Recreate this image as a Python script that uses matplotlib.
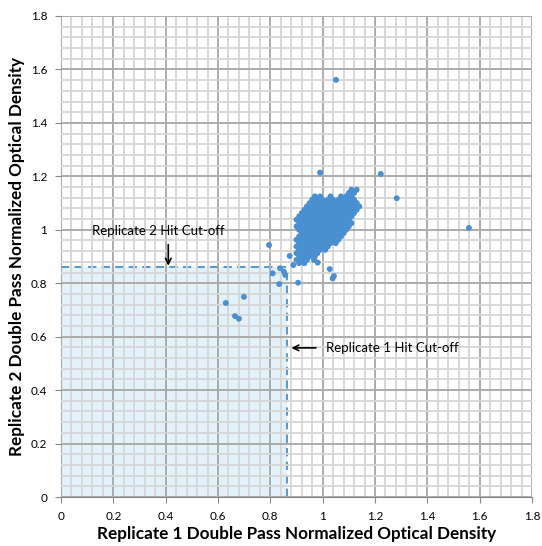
import matplotlib
matplotlib.use("Agg")
import matplotlib.pyplot as plt
from matplotlib.ticker import MultipleLocator
import numpy as np

# ---- data ----
cluster_rows = [
    (1.150, [1.11, 1.13]),
    (1.1375, [1.10, 1.12]),
    (1.125, [0.97, 0.99, 1.03, 1.07, 1.09, 1.11]),
    (1.1125, [0.96, 0.98, 1.00, 1.02, 1.04, 1.06, 1.08, 1.10, 1.12]),
    (1.100, [0.95, 0.97, 0.99, 1.01, 1.03, 1.05, 1.07, 1.09, 1.11, 1.13]),
    (1.0875, [0.94, 0.96, 0.98, 1.00, 1.02, 1.04, 1.06, 1.08, 1.10, 1.12, 1.14]),
    (1.075, [0.93, 0.95, 0.97, 0.99, 1.01, 1.03, 1.05, 1.07, 1.09, 1.11, 1.13]),
    (1.0625, [0.92, 0.94, 0.96, 0.98, 1.00, 1.02, 1.04, 1.06, 1.08, 1.10, 1.12]),
    (1.050, [0.91, 0.93, 0.95, 0.97, 0.99, 1.01, 1.03, 1.05, 1.07, 1.09, 1.11]),
    (1.0375, [0.90, 0.92, 0.94, 0.96, 0.98, 1.00, 1.02, 1.04, 1.06, 1.08, 1.10]),
    (1.025, [0.91, 0.93, 0.95, 0.97, 0.99, 1.01, 1.03, 1.05, 1.07, 1.09, 1.11]),
    (1.0125, [0.90, 0.92, 0.94, 0.96, 0.98, 1.00, 1.02, 1.04, 1.06, 1.08, 1.10]),
    (1.000, [0.91, 0.93, 0.95, 0.97, 0.99, 1.01, 1.03, 1.05, 1.07, 1.09]),
    (0.9875, [0.92, 0.94, 0.96, 0.98, 1.00, 1.02, 1.04, 1.06, 1.08]),
    (0.975, [0.91, 0.93, 0.95, 0.97, 0.99, 1.01, 1.03, 1.05, 1.07]),
    (0.9625, [0.90, 0.92, 0.94, 0.96, 0.98, 1.00, 1.02, 1.04, 1.06]),
    (0.950, [0.91, 0.93, 0.95, 0.97, 0.99, 1.01, 1.03, 1.05]),
    (0.9375, [0.90, 0.92, 0.94, 0.96, 0.98, 1.00, 1.02]),
    (0.925, [0.91, 0.93, 0.95, 0.97, 0.99, 1.01]),
    (0.9125, [0.90, 0.92, 0.94, 0.96, 0.98]),
    (0.900, [0.91, 0.93, 0.95, 0.97]),
    (0.8875, [0.90, 0.92, 0.94]),
    (0.875, [0.91, 0.93]),
]
outlier_x = [1.051, 0.990, 1.222, 1.283, 1.559, 0.795, 0.874, 0.888, 0.967, 0.981,
             1.027, 1.043, 1.038, 0.906, 0.837, 0.852, 0.857, 0.809, 0.834,
             0.630, 0.699, 0.665, 0.680]
outlier_y = [1.561, 1.214, 1.209, 1.118, 1.007, 0.943, 0.902, 0.868, 0.887, 0.877,
             0.853, 0.827, 0.818, 0.802, 0.856, 0.843, 0.831, 0.837, 0.797,
             0.726, 0.749, 0.677, 0.667]
cutoff_rep1 = 0.865
cutoff_rep2 = 0.86
tick_labels = ['0', '0.2', '0.4', '0.6', '0.8', '1', '1.2', '1.4', '1.6', '1.8']

cx = [x for y, xs in cluster_rows for x in xs]
cy = [y for y, xs in cluster_rows for x in xs]

plt.rcParams['font.family'] = ['Lato', 'DejaVu Sans']
fig = plt.figure(figsize=(5.42, 5.46), dpi=100)
ax = fig.add_axes([61/542, 1-497/546, 471/542, 481/546])
ax.set_xlim(0, 1.8)
ax.set_ylim(0, 1.8)

ax.xaxis.set_minor_locator(MultipleLocator(0.04))
ax.yaxis.set_minor_locator(MultipleLocator(0.04))
ax.grid(which='minor', color='#d6d6d6', linewidth=1.3, zorder=1)
ax.grid(which='major', color='#acacac', linewidth=1.4, zorder=1)
ax.set_axisbelow(False)

ax.add_patch(plt.Rectangle((0, 0), cutoff_rep1, cutoff_rep2, facecolor='#daeef8',
                           alpha=0.75, edgecolor='none', zorder=0.5))
ax.plot([0, cutoff_rep1], [cutoff_rep2, cutoff_rep2], ls=(0, (4, 2.5)), color='#5b9bd5', lw=1.5, zorder=2)
ax.plot([cutoff_rep1, cutoff_rep1], [0, cutoff_rep2], ls=(0, (4, 2.5)), color='#5b9bd5', lw=1.5, zorder=2)

ax.scatter(cx, cy, s=18, color='#4a8fd0', edgecolors='none', zorder=3)
ax.scatter(outlier_x, outlier_y, s=18, color='#4a8fd0', edgecolors='none', zorder=3)

ax.annotate('', xy=(0.41, cutoff_rep2 - 0.005), xytext=(0.41, 0.955),
            arrowprops=dict(arrowstyle='->', color='black', lw=1.2), zorder=4)
ax.text(0.12, 0.995, 'Replicate 2 Hit Cut-off', fontsize=9.5, va='center', ha='left', zorder=4)
ax.annotate('', xy=(cutoff_rep1 + 0.005, 0.558), xytext=(0.985, 0.558),
            arrowprops=dict(arrowstyle='->', color='black', lw=1.2), zorder=4)
ax.text(1.013, 0.558, 'Replicate 1 Hit Cut-off', fontsize=9.5, va='center', ha='left', zorder=4)

ax.set_xticks(np.arange(0, 1.81, 0.2))
ax.set_yticks(np.arange(0, 1.81, 0.2))
ax.set_xticklabels(tick_labels)
ax.set_yticklabels(tick_labels)
ax.tick_params(which='major', length=4, color='#888888', labelsize=8.5, pad=6)
ax.tick_params(which='minor', length=0)
for s in ['top', 'right']:
    ax.spines[s].set_visible(False)
for s in ['left', 'bottom']:
    ax.spines[s].set_color('#888888')

ax.set_xlabel('Replicate 1 Double Pass Normalized Optical Density', fontsize=12.3,
              fontweight='bold', labelpad=3)
ax.set_ylabel('Replicate 2 Double Pass Normalized Optical Density', fontsize=12.3,
              fontweight='bold', labelpad=4)

fig.savefig('out.png', dpi=100)
